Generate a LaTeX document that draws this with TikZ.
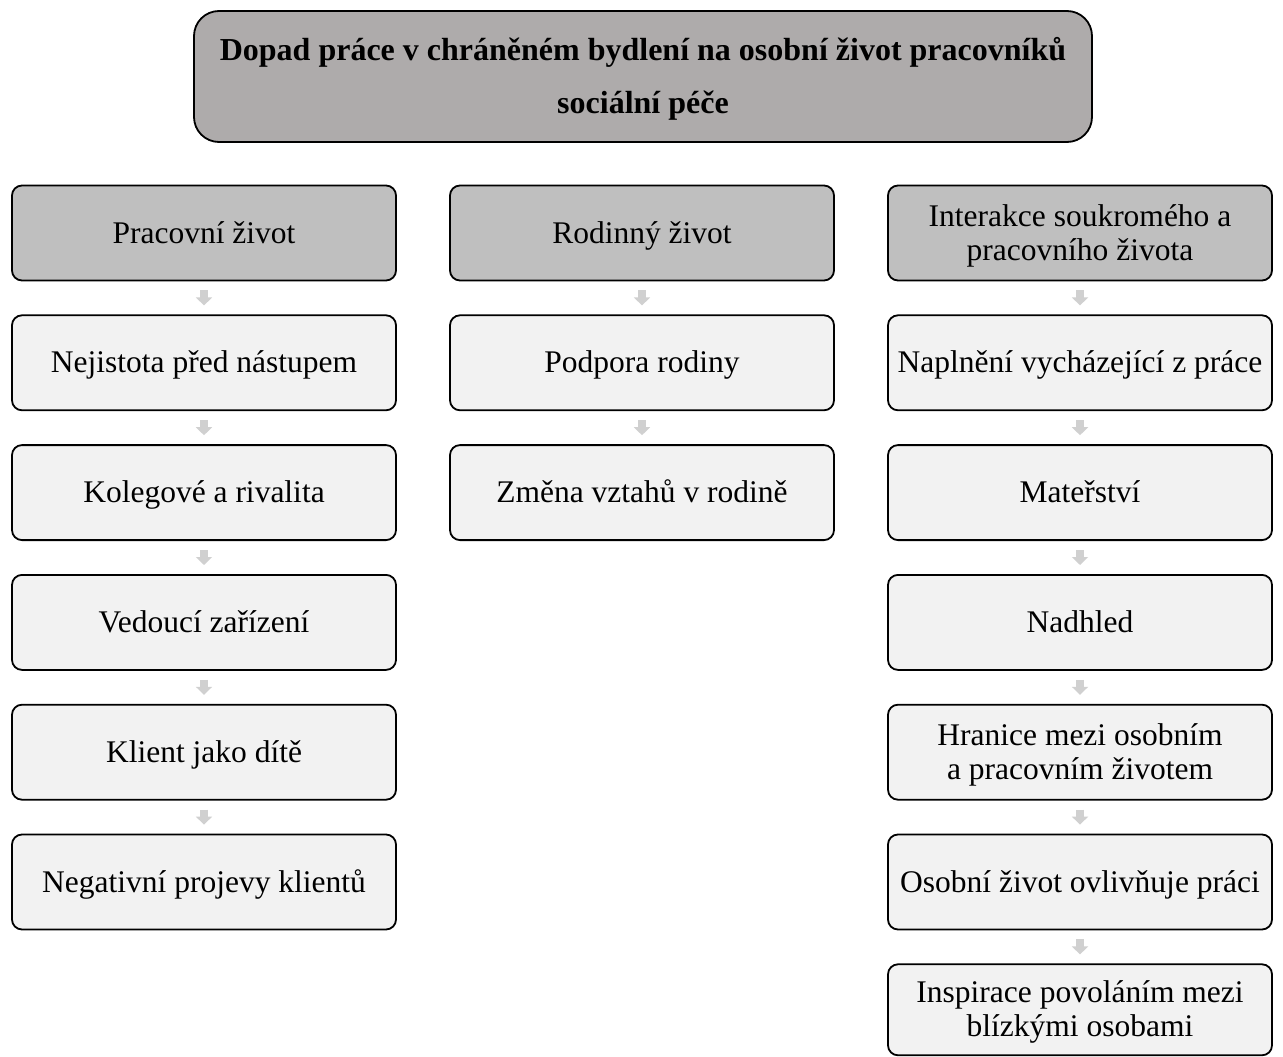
\documentclass[tikz,border=0pt]{standalone}
\usepackage{fontspec}
\setmainfont{Liberation Serif}
\usetikzlibrary{arrows.meta}
\definecolor{titlefill}{HTML}{AEABAB}
\definecolor{headfill}{HTML}{BFBFBF}
\definecolor{itemfill}{HTML}{F2F2F2}
\definecolor{arrowgray}{HTML}{D0D0D0}
\newcommand\bstrut{\rule[-7pt]{0pt}{34pt}}
\newcommand\tstrut{\rule[-9pt]{0pt}{39pt}}
\tikzset{
  basebox/.style={draw=black, line width=1.8pt, rounded corners=10pt,
    minimum width=384pt, minimum height=95pt, inner sep=0pt, align=center,
    font=\fontsize{31.5}{34}\selectfont},
  headbox/.style={basebox, fill=headfill},
  itembox/.style={basebox, fill=itemfill},
  titlebox/.style={draw=black, line width=1.8pt, rounded corners=25pt, fill=titlefill,
    minimum width=898pt, minimum height=131pt, inner sep=0pt, align=center,
    font=\fontsize{32}{53}\selectfont\bfseries},
  blockarrow/.style={draw=arrowgray, line width=8pt,
    -{Triangle[length=8pt,width=16pt]}, shorten <=9pt, shorten >=9pt}
}
\begin{document}
\begin{tikzpicture}[x=1pt,y=-1pt]
\useasboundingbox (0,0) rectangle (1283,1057);
\node[titlebox] (title) at (643,76.5) {\tstrut Dopad práce v chráněném bydlení na osobní život pracovníků\\\tstrut sociální péče};
% left column
\node[headbox] (l0) at (204,233) {\bstrut Pracovní život};
\node[itembox] (l1) at (204,362.8) {\bstrut Nejistota před nástupem};
\node[itembox] (l2) at (204,492.6) {\bstrut Kolegové a rivalita};
\node[itembox] (l3) at (204,622.4) {\bstrut Vedoucí zařízení};
\node[itembox] (l4) at (204,752.2) {\bstrut Klient jako dítě};
\node[itembox] (l5) at (204,882) {\bstrut Negativní projevy klientů};
% middle column
\node[headbox] (m0) at (642,233) {\bstrut Rodinný život};
\node[itembox] (m1) at (642,362.8) {\bstrut Podpora rodiny};
\node[itembox] (m2) at (642,492.6) {\bstrut Změna vztahů v rodině};
% right column
\node[headbox] (r0) at (1080,233) {\bstrut Interakce soukromého a\\\bstrut pracovního života};
\node[itembox] (r1) at (1080,362.8) {\bstrut Naplnění vycházející z práce};
\node[itembox] (r2) at (1080,492.6) {\bstrut Mateřství};
\node[itembox] (r3) at (1080,622.4) {\bstrut Nadhled};
\node[itembox] (r4) at (1080,752.2) {\bstrut Hranice mezi osobním\\\bstrut a pracovním životem};
\node[itembox] (r5) at (1080,882) {\bstrut Osobní život ovlivňuje práci};
\node[itembox, minimum height=91pt] (r6) at (1080,1009.8) {\bstrut Inspirace povoláním mezi\\\bstrut blízkými osobami};
% arrows
\draw[blockarrow] (l0) -- (l1);
\draw[blockarrow] (l1) -- (l2);
\draw[blockarrow] (l2) -- (l3);
\draw[blockarrow] (l3) -- (l4);
\draw[blockarrow] (l4) -- (l5);
\draw[blockarrow] (m0) -- (m1);
\draw[blockarrow] (m1) -- (m2);
\draw[blockarrow] (r0) -- (r1);
\draw[blockarrow] (r1) -- (r2);
\draw[blockarrow] (r2) -- (r3);
\draw[blockarrow] (r3) -- (r4);
\draw[blockarrow] (r4) -- (r5);
\draw[blockarrow] (r5) -- (r6);
\end{tikzpicture}
\end{document}
